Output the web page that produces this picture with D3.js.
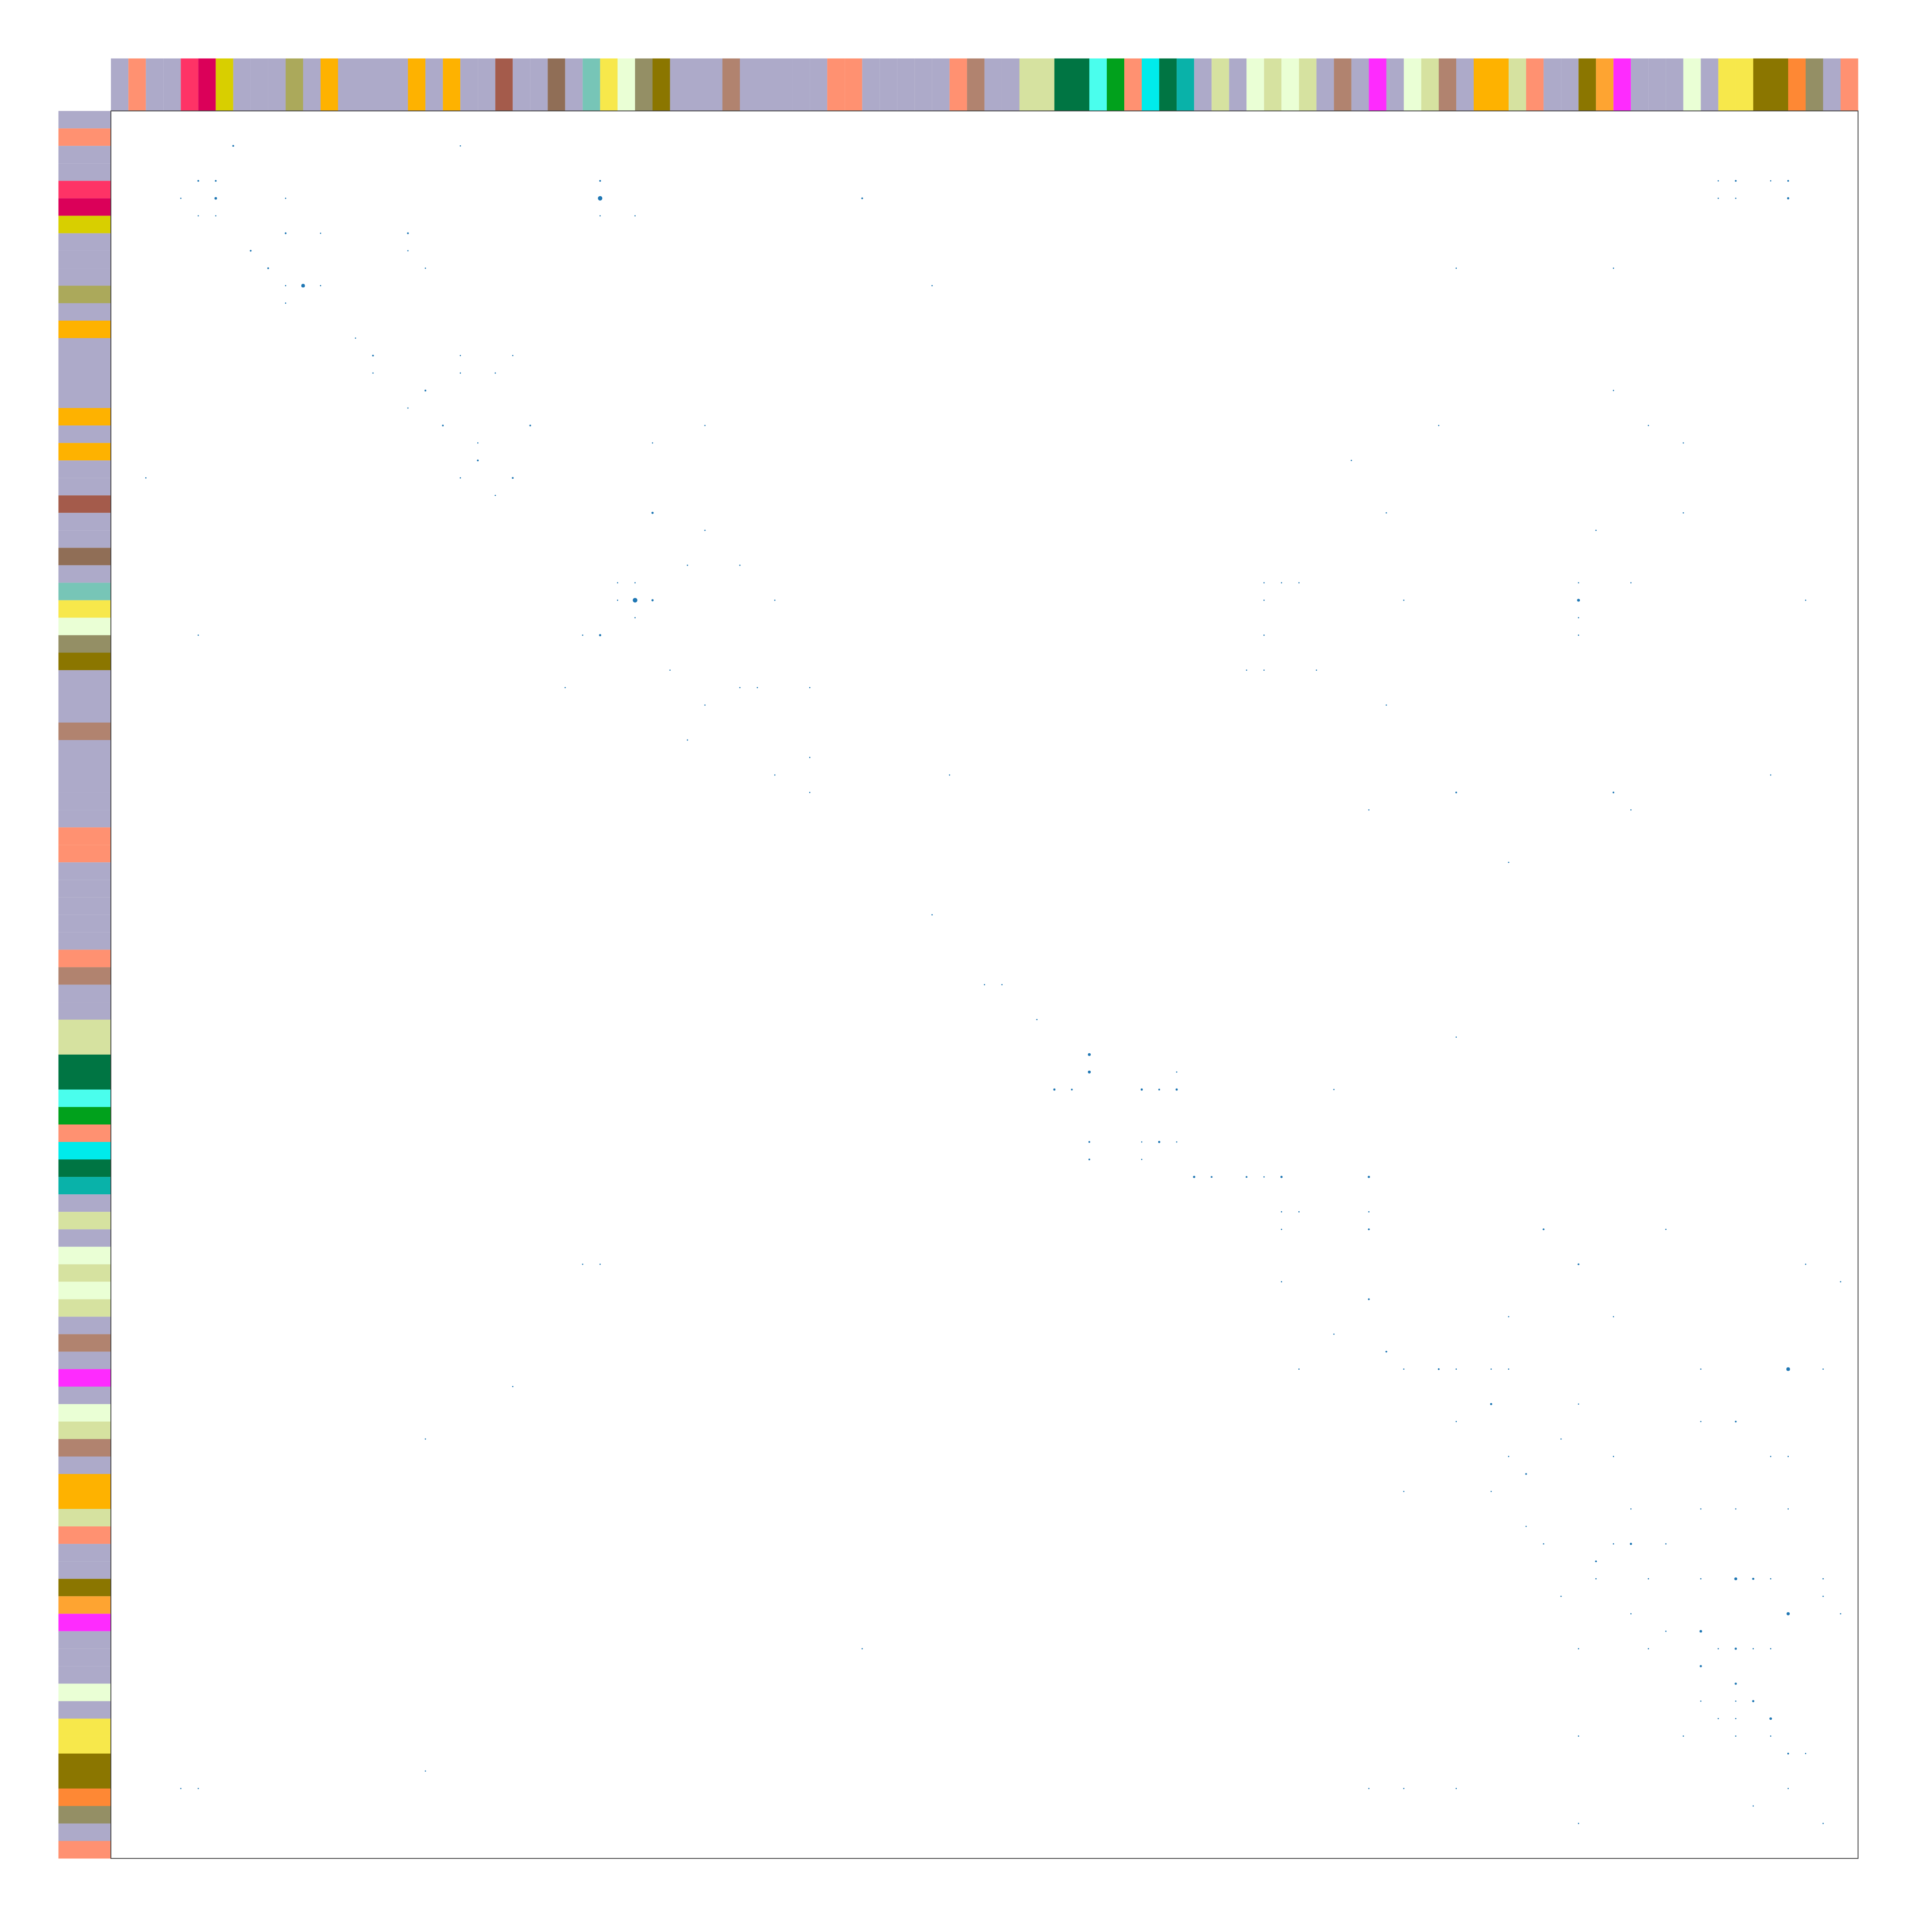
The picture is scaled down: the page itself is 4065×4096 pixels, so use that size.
<!DOCTYPE html>
<html>
<head>
<meta charset="utf-8">
<script src="https://cdn.jsdelivr.net/npm/d3@7"></script>
<style>html,body{margin:0;padding:0;background:#ffffff;}</style>
</head>
<body>
<svg id="chart" width="4065" height="4096"></svg>
<script>
// Group palette (one colour per node group)
const groupColors = [
  "#adaac9", "#ff9171", "#fe3366", "#db0059", "#d8cf00", "#aba95b",
  "#feb200", "#a45b4b", "#906e56", "#77c5b7", "#f7e84b", "#eaffd5",
  "#948f65", "#8b7600", "#b1836f", "#d6e2a0", "#007543", "#4afeed",
  "#01a11c", "#00ebeb", "#09b2a9", "#fe2bfe", "#fea431", "#fe8834"
];

// Group of each of the 100 nodes, in matrix order
const nodeGroup = [
  0, 1, 0, 0, 2, 3, 4, 0, 0, 0,
  5, 0, 6, 0, 0, 0, 0, 6, 0, 6,
  0, 0, 7, 0, 0, 8, 0, 9, 10, 11,
  12, 13, 0, 0, 0, 14, 0, 0, 0, 0,
  0, 1, 1, 0, 0, 0, 0, 0, 1, 14,
  0, 0, 15, 15, 16, 16, 17, 18, 1, 19,
  16, 20, 0, 15, 0, 11, 15, 11, 15, 0,
  14, 0, 21, 0, 11, 15, 14, 0, 6, 6,
  15, 1, 0, 0, 13, 22, 21, 0, 0, 0,
  11, 0, 10, 10, 13, 13, 23, 12, 0, 1
];

// Links: [row, column, weight]
const links = [
  [2,7,2],[2,20,1],
  [4,5,2],[4,6,2],[4,28,2],[4,92,1],[4,93,2],[4,95,1],[4,96,2],
  [5,4,1],[5,6,4],[5,10,1],[5,28,12],[5,43,2],[5,92,1],[5,93,1],[5,96,3],
  [6,5,1],[6,6,1],[6,28,1],[6,30,1],
  [7,10,2],[7,12,1],[7,17,2],
  [8,8,2],[8,17,1],
  [9,9,2],[9,18,1],[9,77,1],[9,86,1],
  [10,10,1],[10,11,8],[10,12,1],[10,47,1],
  [11,10,1],
  [13,14,1],
  [14,15,2],[14,20,1],[14,23,1],
  [15,15,1],[15,20,1],[15,22,1],
  [16,18,2],[16,86,1],
  [17,17,1],
  [18,19,2],[18,24,2],[18,34,1],[18,76,1],[18,88,1],
  [19,21,1],[19,31,1],[19,90,1],
  [20,21,2],[20,71,1],
  [21,2,1],[21,20,1],[21,23,2],
  [22,22,1],
  [23,31,3],[23,73,1],[23,90,1],
  [24,34,1],[24,85,1],
  [26,33,1],[26,36,1],
  [27,29,1],[27,30,1],[27,66,1],[27,67,1],[27,68,1],[27,84,1],[27,87,1],
  [28,29,1],[28,30,13],[28,31,3],[28,38,1],[28,66,1],[28,74,1],[28,84,5],[28,97,1],
  [29,30,1],[29,84,1],
  [30,5,1],[30,27,1],[30,28,3],[30,66,1],[30,84,1],
  [32,32,1],[32,65,1],[32,66,1],[32,69,1],
  [33,26,1],[33,36,1],[33,37,1],[33,40,1],
  [34,34,1],[34,73,1],
  [36,33,1],
  [37,40,1],
  [38,38,1],[38,48,1],[38,95,1],
  [39,40,1],[39,77,2],[39,86,2],
  [40,72,1],[40,87,1],
  [43,80,1],
  [46,47,1],
  [50,50,1],[50,51,1],
  [52,53,1],
  [53,77,1],
  [54,56,5],
  [55,56,5],[55,61,1],
  [56,54,3],[56,55,2],[56,59,3],[56,60,2],[56,61,3],[56,70,1],
  [59,56,2],[59,59,1],[59,60,3],[59,61,1],
  [60,56,2],[60,59,1],
  [61,62,3],[61,63,2],[61,65,2],[61,66,1],[61,67,3],[61,72,3],
  [63,67,1],[63,68,1],[63,72,1],
  [64,67,1],[64,72,2],[64,82,2],[64,89,1],
  [66,27,1],[66,28,1],[66,84,2],[66,97,1],
  [67,67,1],[67,99,1],
  [68,72,2],
  [69,80,1],[69,86,1],
  [70,70,1],
  [71,73,2],
  [72,68,1],[72,74,1],[72,76,2],[72,77,1],[72,79,1],[72,80,1],[72,91,1],[72,96,8],[72,98,1],
  [73,23,1],
  [74,79,3],[74,84,1],
  [75,77,1],[75,91,1],[75,93,2],
  [76,18,1],[76,83,1],
  [77,80,1],[77,86,1],[77,95,1],[77,96,1],
  [78,81,2],
  [79,74,1],[79,79,1],
  [80,87,1],[80,91,1],[80,93,1],[80,96,1],
  [81,81,1],
  [82,82,1],[82,86,1],[82,87,3],[82,89,1],
  [83,85,2],
  [84,85,1],[84,88,1],[84,91,1],[84,93,5],[84,94,3],[84,95,1],[84,98,1],
  [85,83,1],[85,98,1],
  [86,87,1],[86,96,6],[86,99,1],
  [87,89,1],[87,91,4],
  [88,43,1],[88,84,1],[88,88,1],[88,92,1],[88,93,3],[88,94,1],[88,95,1],
  [89,91,3],
  [90,93,3],
  [91,91,1],[91,93,1],[91,94,3],
  [92,92,1],[92,93,1],[92,95,4],
  [93,84,1],[93,90,1],[93,93,1],[93,95,1],
  [94,96,2],[94,97,1],
  [95,18,1],
  [96,4,1],[96,5,1],[96,72,1],[96,74,1],[96,77,1],[96,96,1],
  [97,94,1],
  [98,84,1],[98,98,1]
];

const N = nodeGroup.length;
const svg = d3.select("#chart");

const plotLeft = 235.2, plotRight = 3940.0;
const plotTop = 235.2, plotBottom = 3940.0;
const barOuter = 123.9;

const x = d3.scaleLinear().domain([0, N]).range([plotLeft, plotRight]);
const y = d3.scaleLinear().domain([0, N]).range([plotTop, plotBottom]);
const r = d3.scaleSqrt().domain([0, 13]).range([0, 1.36 * Math.sqrt(13)]);
const color = d3.scaleOrdinal().domain(d3.range(groupColors.length)).range(groupColors);

const nodes = d3.range(N);

// top colour strip
svg.append("g").selectAll("rect").data(nodes).join("rect")
  .attr("x", d => x(d))
  .attr("y", barOuter)
  .attr("width", d => x(d + 1) - x(d) + 0.3)
  .attr("height", plotTop - barOuter)
  .attr("fill", d => color(nodeGroup[d]));

// left colour strip
svg.append("g").selectAll("rect").data(nodes).join("rect")
  .attr("x", barOuter)
  .attr("y", d => y(d))
  .attr("width", plotLeft - barOuter)
  .attr("height", d => y(d + 1) - y(d) + 0.3)
  .attr("fill", d => color(nodeGroup[d]));

// matrix background
svg.append("rect")
  .attr("x", plotLeft).attr("y", plotTop)
  .attr("width", plotRight - plotLeft).attr("height", plotBottom - plotTop)
  .attr("fill", "#ffffff");

// link dots
svg.append("g").selectAll("circle").data(links).join("circle")
  .attr("cx", d => x(d[1]))
  .attr("cy", d => y(d[0]))
  .attr("r", d => r(d[2]))
  .attr("fill", "#1f77b4");

// frame
svg.append("rect")
  .attr("x", plotLeft).attr("y", plotTop)
  .attr("width", plotRight - plotLeft).attr("height", plotBottom - plotTop)
  .attr("fill", "none")
  .attr("stroke", "#444444")
  .attr("stroke-width", 1.8);
</script>
</body>
</html>
